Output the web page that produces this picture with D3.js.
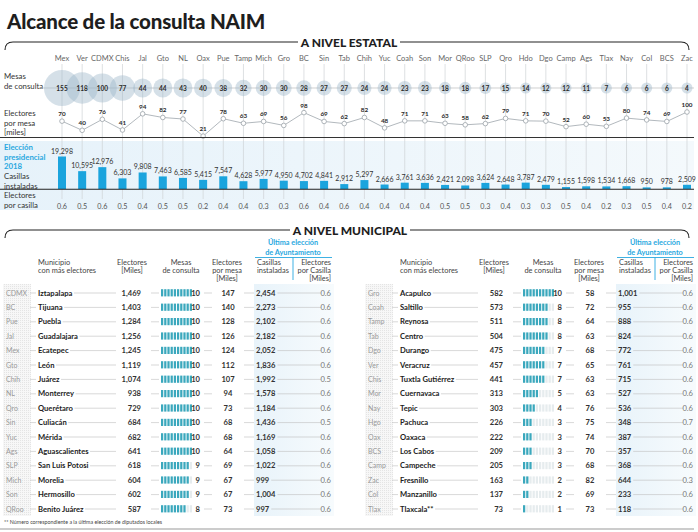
<!DOCTYPE html>
<html><head><meta charset="utf-8">
<script src="https://cdn.jsdelivr.net/npm/d3@7"></script>
<style>
body{margin:0;background:#fff;}
svg{display:block;font-family:Lato,"Open Sans",sans-serif;}
</style></head><body>
<svg id="c" width="698" height="532"></svg>
<script>
// ---------- DATA ----------
const states = ["Mex","Ver","CDMX","Chis","Jal","Gto","NL","Oax","Pue","Tamp","Mich","Gro","BC","Sin","Tab","Chih","Yuc","Coah","Son","Mor","QRoo","SLP","Qro","Hdo","Dgo","Camp","Ags","Tlax","Nay","Col","BCS","Zac"];
const mesas = [155,118,100,77,44,44,43,40,38,32,30,30,28,27,27,24,24,23,23,18,18,17,15,14,12,12,11,7,6,6,6,4];
const electoresMesa = [70,40,76,41,94,82,77,21,78,63,69,56,98,69,62,82,48,71,71,63,58,62,79,71,70,52,60,53,80,74,69,100];
const casillas = [19298,10595,12976,6303,9808,7463,6585,5415,7547,4628,5977,4950,4702,4841,2912,5297,2666,3761,3636,2421,2098,3624,2648,3787,2479,1155,1598,1534,1668,950,978,2509];
const electoresCasilla = [0.6,0.5,0.6,0.5,0.4,0.5,0.5,0.2,0.4,0.4,0.3,0.3,0.6,0.4,0.6,0.4,0.4,0.4,0.4,0.5,0.5,0.3,0.4,0.3,0.3,0.5,0.4,0.2,0.3,0.5,0.4,0.2];

const lStates = ["CDMX","BC","Pue","Jal","Mex","Gto","Chih","NL","Qro","Sin","Yuc","Ags","SLP","Mich","Son","QRoo"];
const lNames = ["Iztapalapa","Tijuana","Puebla","Guadalajara","Ecatepec","León","Juárez","Monterrey","Querétaro","Culiacán","Mérida","Aguascalientes","San Luis Potosi","Morelia","Hermosillo","Benito Juárez"];
const lElect = [1469,1403,1284,1256,1245,1119,1074,938,729,684,682,641,618,604,602,587];
const lMesas = [10,10,10,10,10,10,10,10,10,10,10,10,9,9,9,8];
const lPorMesa = [147,140,128,126,124,112,107,94,73,68,68,64,69,67,67,73];
const lCasillas = [2454,2273,2102,2182,2052,1836,1992,1578,1184,1436,1169,1058,1022,999,1004,997];
const lPorCasilla = [0.6,0.6,0.6,0.6,0.6,0.6,0.5,0.6,0.6,0.5,0.6,0.6,0.6,0.6,0.6,0.6];

const rStates = ["Gro","Coah","Tamp","Tab","Dgo","Ver","Chis","Mor","Nay","Hgo","Oax","BCS","Camp","Zac","Col","Tlax"];
const rNames = ["Acapulco","Saltillo","Reynosa","Centro","Durango","Veracruz","Tuxtla Gutiérrez","Cuernavaca","Tepic","Pachuca","Oaxaca","Los Cabos","Campeche","Fresnillo","Manzanillo","Tlaxcala**"];
const rElect = [582,573,511,504,475,457,441,313,303,226,222,209,205,163,137,73];
const rMesas = [10,8,8,8,7,7,7,5,4,3,3,3,3,2,2,1];
const rPorMesa = [58,72,64,63,68,65,63,63,76,75,74,70,68,82,69,73];
const rCasillas = [1001,955,888,824,772,761,715,527,536,348,387,357,368,644,233,118];
const rPorCasilla = [0.6,0.6,0.6,0.6,0.6,0.6,0.6,0.6,0.6,0.7,0.6,0.6,0.6,0.3,0.6,0.6];

// ---------- DRAW ----------
const svg = d3.select("#c");
const fmt = d3.format(",");
const dark = "#222", blue = "#29a8e0";

const defs = svg.append("defs");
const g1 = defs.append("linearGradient").attr("id","band");
g1.append("stop").attr("offset","0").attr("stop-color","#e6f2fa");
g1.append("stop").attr("offset","1").attr("stop-color","#f4f9fc");
const g2 = defs.append("linearGradient").attr("id","cas");
g2.append("stop").attr("offset","0").attr("stop-color","#e8f3fa");
g2.append("stop").attr("offset","1").attr("stop-color","#f7fbfd");
const pat = defs.append("pattern").attr("id","dots").attr("width",2).attr("height",2).attr("patternUnits","userSpaceOnUse");
pat.append("rect").attr("width",2).attr("height",2).attr("fill","#f7f7f7");
pat.append("rect").attr("width",1).attr("height",1).attr("fill","#e4e4e4");

// Title
svg.append("text").attr("x",7).attr("y",29).attr("font-size",20.5).attr("font-weight",900)
  .attr("fill","#1e1e1e").attr("letter-spacing",-0.2).text("Alcance de la consulta NAIM");

// Section brackets
function bracket(y, x1, x2, title){
  svg.append("path").attr("d",`M5,${y+8} Q5,${y} 13,${y} L${x1},${y}`).attr("fill","none").attr("stroke",dark).attr("stroke-width",1.1);
  svg.append("path").attr("d",`M${x2},${y} L681,${y} Q689,${y} 689,${y+8}`).attr("fill","none").attr("stroke",dark).attr("stroke-width",1.1);
  svg.append("text").attr("x",(x1+x2)/2).attr("y",y+4.5).attr("text-anchor","middle")
    .attr("font-size",12).attr("font-weight",900).attr("fill","#1e1e1e").text(title);
}
bracket(42, 298, 400, "A NIVEL ESTATAL");
bracket(230, 290, 410, "A NIVEL MUNICIPAL");

// ----- State section -----
const x = d3.scalePoint().domain(states).range([62,687]);
const rScale = d3.scaleSqrt().domain([0,155]).range([0,18]);
const yMesa = d3.scaleLinear().domain([0,100]).range([142.5,112]);
const yBar = d3.scaleLinear().domain([0,19298]).range([189,156.5]);

svg.append("rect").attr("x",0).attr("y",141).attr("width",694).attr("height",69).attr("fill","url(#band)");

svg.append("g").selectAll("line").data(states).join("line")
  .attr("x1",d=>x(d)).attr("x2",d=>x(d)).attr("y1",64).attr("y2",199)
  .attr("stroke","#cfd3d6").attr("stroke-width",0.7);

svg.append("g").selectAll("text").data(states).join("text")
  .attr("x",d=>x(d)).attr("y",61).attr("text-anchor","middle").attr("font-size",7.5).attr("fill","#666").text(d=>d);

function lbl(lines, y0, color, bold){
  lines.forEach((t,i)=>svg.append("text").attr("x",4).attr("y",y0+i*9.5).attr("font-size",7.8)
    .attr("fill",color).attr("font-weight",bold?700:400).text(t));
}
lbl(["Mesas","de consulta"],79,"#333");
lbl(["Electores","por mesa","[miles]"],116,"#333");
lbl(["Elección","presidencial","2018"],150,blue,true);
lbl(["Casillas","instaladas"],179,"#333");
lbl(["Electores","por casilla"],198,"#333");

svg.append("line").attr("x1",40).attr("x2",694).attr("y1",88).attr("y2",88).attr("stroke","#bbb").attr("stroke-width",0.7);
svg.append("g").selectAll("circle").data(states).join("circle")
  .attr("cx",d=>x(d)).attr("cy",88).attr("r",(d,i)=>Math.max(5.5,rScale(mesas[i])))
  .attr("fill","#9cb4c8").attr("fill-opacity",0.42);
svg.append("g").selectAll("text").data(states).join("text")
  .attr("x",d=>x(d)).attr("y",90.5).attr("text-anchor","middle").attr("font-size",6.5).attr("font-weight",700)
  .attr("fill","#2a2a2a").text((d,i)=>mesas[i]);

const line = d3.line().x(d=>x(d)).y((d,i)=>yMesa(electoresMesa[i]));
svg.append("path").datum(states).attr("d",line).attr("fill","none").attr("stroke","#a9b0b5").attr("stroke-width",0.9);
svg.append("g").selectAll("circle").data(states).join("circle")
  .attr("cx",d=>x(d)).attr("cy",(d,i)=>yMesa(electoresMesa[i])).attr("r",2.3)
  .attr("fill","#fff").attr("stroke","#9aa2a8").attr("stroke-width",0.8);
svg.append("g").selectAll("text").data(states).join("text")
  .attr("x",d=>x(d)).attr("y",(d,i)=>yMesa(electoresMesa[i])-5).attr("text-anchor","middle")
  .attr("font-size",6.3).attr("font-weight",700).attr("fill","#2a2a2a").text((d,i)=>electoresMesa[i]);

svg.append("line").attr("x1",0).attr("x2",694).attr("y1",137.5).attr("y2",137.5).attr("stroke","#333").attr("stroke-width",1);

svg.append("g").selectAll("rect").data(states).join("rect")
  .attr("x",d=>x(d)-4).attr("width",8).attr("y",(d,i)=>yBar(casillas[i]))
  .attr("height",(d,i)=>yBar(0)-yBar(casillas[i])).attr("fill","#1ba4dd");
svg.append("g").selectAll("text").data(states).join("text")
  .attr("x",d=>x(d)).attr("y",(d,i)=>yBar(casillas[i])-3).attr("text-anchor","middle")
  .attr("font-size",7).attr("fill","#333").text((d,i)=>fmt(casillas[i]));
svg.append("line").attr("x1",0).attr("x2",694).attr("y1",189.3).attr("y2",189.3).attr("stroke","#222").attr("stroke-width",1.1);
svg.append("g").selectAll("text").data(states).join("text")
  .attr("x",d=>x(d)).attr("y",209).attr("text-anchor","middle").attr("font-size",7.2).attr("fill","#555")
  .text((d,i)=>electoresCasilla[i].toFixed(1));

// ----- Municipal tables -----
const yRow = d3.scalePoint().domain(d3.range(16)).range([293,509]);
const seg = d3.scaleBand().domain(d3.range(10)).range([0,31]).paddingInner(0.3);

function table(off, st, names, el, me, pm, ca, pc){
  const g = svg.append("g").attr("transform",`translate(${off},0)`);
  g.append("rect").attr("x",3).attr("y",284).attr("width",28).attr("height",232).attr("fill","url(#dots)");
  g.append("rect").attr("x",254).attr("y",284).attr("width",80).attr("height",232).attr("fill","url(#cas)");
  g.append("text").attr("x",293).attr("y",245).attr("text-anchor","middle").attr("font-size",7.3).attr("font-weight",700).attr("fill",blue).text("Última elección");
  g.append("text").attr("x",293).attr("y",254.5).attr("text-anchor","middle").attr("font-size",7.3).attr("font-weight",700).attr("fill",blue).text("de Ayuntamiento");
  g.append("line").attr("x1",255).attr("x2",332).attr("y1",257.5).attr("y2",257.5).attr("stroke",blue).attr("stroke-width",0.9);
  g.append("line").attr("x1",293).attr("x2",293).attr("y1",257.5).attr("y2",280).attr("stroke",blue).attr("stroke-width",0.9);
  const hd = (xx, anchor, lines) => lines.forEach((t,i)=>g.append("text").attr("x",xx).attr("y",265+i*8)
      .attr("text-anchor",anchor).attr("font-size",7.4).attr("fill","#444").text(t));
  hd(38,"start",["Municipio","con más electores"]);
  hd(132,"middle",["Electores","[Miles]"]);
  hd(181,"middle",["Mesas","de consulta"]);
  hd(227,"middle",["Electores","por mesa","[Miles]"]);
  hd(257,"start",["Casillas","instaladas"]);
  hd(331,"end",["Electores","por Casilla","[Miles]"]);

  st.forEach((s,i)=>{
    const y = yRow(i);
    const ln = (a,b)=>g.append("line").attr("x1",a).attr("x2",b).attr("y1",y).attr("y2",y).attr("stroke","#bdbdbd").attr("stroke-width",0.6);
    g.append("text").attr("x",6).attr("y",y+2.5).attr("font-size",7).attr("fill","#9a9a9a").text(s);
    const nm = g.append("text").attr("x",38).attr("y",y+2.6).attr("font-size",7.6).attr("font-weight",700).attr("fill",dark).text(names[i]);
    const w = nm.node().getComputedTextLength();
    ln(30,36); ln(38+w+1.5,116);
    g.append("text").attr("x",141).attr("y",y+2.6).attr("text-anchor","end").attr("font-size",7.6).attr("font-weight",700).attr("fill","#333").text(fmt(el[i]));
    ln(151,159);
    g.selectAll(null).data(d3.range(10)).join("rect")
      .attr("x",k=>161+seg(k)).attr("width",seg.bandwidth()).attr("y",y-3.8).attr("height",7.2)
      .attr("fill",k=>k<me[i]?"#3ba8bd":"#e6ecee");
    g.append("text").attr("x",200).attr("y",y+2.6).attr("text-anchor","end").attr("font-size",7.6).attr("font-weight",700).attr("fill","#333").text(me[i]);
    ln(204,212);
    g.append("text").attr("x",228).attr("y",y+2.6).attr("text-anchor","middle").attr("font-size",7.6).attr("font-weight",700).attr("fill","#333").text(pm[i]);
    ln(244,254);
    const cn = g.append("text").attr("x",256).attr("y",y+2.6).attr("font-size",7.6).attr("font-weight",700).attr("fill","#333").text(fmt(ca[i]));
    const cw = cn.node().getComputedTextLength();
    ln(256+cw+2,321);
    g.append("text").attr("x",331).attr("y",y+2.6).attr("text-anchor","end").attr("font-size",7.6).attr("fill","#777").text(pc[i].toFixed(1));
  });
}
table(0, lStates, lNames, lElect, lMesas, lPorMesa, lCasillas, lPorCasilla);
table(362, rStates, rNames, rElect, rMesas, rPorMesa, rCasillas, rPorCasilla);

svg.append("text").attr("x",4).attr("y",524).attr("font-size",5.3).attr("fill","#444")
  .text("** Número correspondiente a la última elección de diputados locales");
svg.append("line").attr("x1",0).attr("x2",694).attr("y1",529).attr("y2",529).attr("stroke","#999").attr("stroke-width",1);
</script></body></html>
